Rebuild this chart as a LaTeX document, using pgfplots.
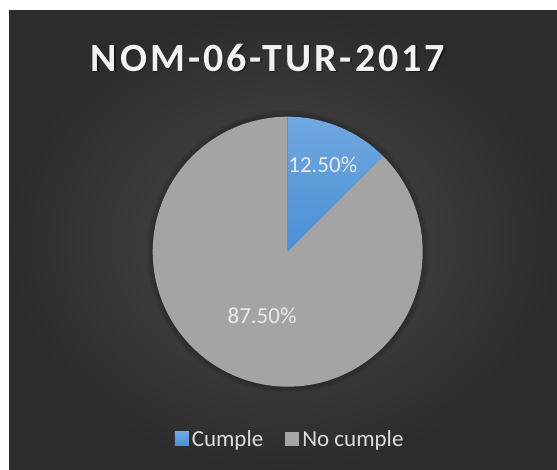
\documentclass[border=0pt]{standalone}
\usepackage{pgfplots}
\pgfplotsset{compat=1.18}
\usepackage{pgfplotstable}
\usepackage{fontspec}
\setmainfont{Carlito}
\newfontfamily\titlefont[LetterSpace=7.5]{Carlito}
\definecolor{bgin}{HTML}{4B4B4B}
\definecolor{bgout}{HTML}{2C2C2C}
\definecolor{bluetop}{HTML}{70A8DE}
\definecolor{bluebot}{HTML}{4A8FD6}
\definecolor{graytop}{HTML}{AEAEAE}
\definecolor{graybot}{HTML}{9A9A9A}
\definecolor{labtxt}{HTML}{EAEAEA}
\definecolor{legtxt}{HTML}{DDDDDD}
\pgfplotstableread{
label value
Cumple 12.5
NoCumple 87.5
}\piedata
\pgfplotstablegetelem{0}{value}\of\piedata
\let\va\pgfplotsretval
\begin{document}
\begin{tikzpicture}[x=1bp,y=1bp]
\fill[white] (0,0) rectangle (557,470);
\shade[inner color=bgin, outer color=bgout] (9,0) rectangle (557,459);
% title
\node[text=black, opacity=0.4, font=\titlefont\fontsize{40bp}{48bp}\selectfont\bfseries] at (269.5,410.5) {NOM-06-TUR-2017};
\node[text=white!95!black, font=\titlefont\fontsize{40bp}{48bp}\selectfont\bfseries] at (268,412) {NOM-06-TUR-2017};
\begin{axis}[
  at={(287.7bp,218.3bp)}, anchor=center,
  x=135bp, y=135bp,
  xmin=-1.2, xmax=1.2, ymin=-1.2, ymax=1.2,
  hide axis, clip=false,
  legend columns=2,
  legend style={at={(0.509,-0.078)}, anchor=center, draw=none, fill=none,
    text=legtxt, font=\fontsize{23bp}{27bp}\selectfont,
    /tikz/every even column/.append style={column sep=19bp},
    nodes={inner sep=3bp}},
]
\fill[black, opacity=0.07] (axis cs:0,0) circle[radius=141bp];
\fill[black, opacity=0.07] (axis cs:0,0) circle[radius=139bp];
\fill[black, opacity=0.07] (axis cs:0,0) circle[radius=137bp];
\addplot[draw=none, top color=bluetop, bottom color=bluebot, domain=0:\va, samples=61, variable=\t,
  legend image code/.code={\fill[bluebot!85!bluetop] (0bp,-7bp) rectangle (14bp,7bp);}]
  ({sin(3.6*\t)},{cos(3.6*\t)}) -- (axis cs:0,0) -- cycle;
\addlegendentry{Cumple}
\addplot[draw=none, fill=graytop!50!graybot, domain=\va:100, samples=351, variable=\t,
  legend image code/.code={\fill[graytop!60!graybot] (0bp,-7bp) rectangle (14bp,7bp);}]
  ({sin(3.6*\t)},{cos(3.6*\t)}) -- (axis cs:0,0) -- cycle;
\addlegendentry{No cumple}
\node[text=labtxt, font=\fontsize{23bp}{27bp}\selectfont] at (axis cs:0.26,0.642) {12.50\%};
\node[text=labtxt, font=\fontsize{23bp}{27bp}\selectfont] at (axis cs:-0.19,-0.476) {87.50\%};
\end{axis}
\pgfresetboundingbox
\useasboundingbox (0,0) rectangle (557,470);
\end{tikzpicture}
\end{document}
